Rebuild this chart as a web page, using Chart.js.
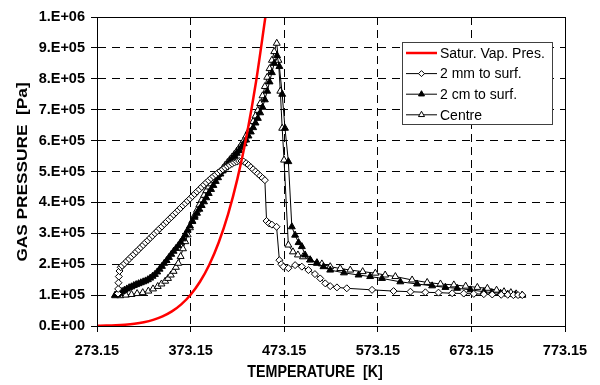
<!DOCTYPE html>
<html>
<head>
<meta charset="utf-8">
<title>Gas pressure vs temperature</title>
<script src="https://cdn.jsdelivr.net/npm/chart.js@4.4.1/dist/chart.umd.min.js"></script>
<style>
  html, body { margin: 0; padding: 0; background: #fff; }
  #wrap { width: 600px; height: 385px; }
</style>
</head>
<body>
<div id="wrap"><canvas id="chart" width="600" height="385"></canvas></div>
<script>
// ---- values ----
const xTicks = [273.15, 373.15, 473.15, 573.15, 673.15, 773.15];
const xTitle = 'TEMPERATURE  [K]';
const yTitle = 'GAS PRESSURE  [Pa]';

// saturation vapour pressure (red curve)
const satT = [273.15, 283.15, 293.15, 303.15, 313.15, 323.15, 333.15, 343.15, 353.15, 363.15,
  373.15, 383.15, 393.15, 403.15, 413.15, 423.15, 433.15, 443.15, 453.15];
const satP = [611, 1228, 2339, 4246, 7384, 12350, 19940, 31190, 47390, 70180,
  101300, 143300, 198500, 270300, 361400, 476200, 618200, 792200, 1002000];

// 2 mm to surface (open diamonds)
const mm2T = [295.6, 295.8, 296.1, 296.5, 297.2, 298.5,
  300, 302.5, 305, 307.5, 310, 312.5, 315, 317.5, 320, 322.5,
  325, 327.5, 330, 332.5, 335, 337.5, 340, 342.5, 345, 347.5,
  350, 352.5, 355, 357.5, 360, 362.5, 365, 367.5, 370, 372.5,
  375, 377.5, 380, 382.5, 385, 387.5, 390, 392.5, 395, 397.5,
  400, 402.5, 405, 407.5, 410, 412.5, 415, 417.5, 420, 422.5,
  425, 427.5, 430, 432.5, 435, 437.5, 440, 442.5, 445, 447.5,
  450, 452.5, 454.3, 457, 460, 465, 468, 470, 472.3, 477.6,
  484.8, 492, 499, 506, 511.6, 517, 522.3, 529.5, 540, 567,
  590, 608, 624, 638, 652.6, 665, 675.7, 686.4, 695.4, 705,
  712, 718, 723, 727.5];
const mm2P = [1.05e5, 1.2e5, 1.4e5, 1.6e5, 1.78e5, 1.9e5,
  1.95e5, 2.02e5, 2.10e5, 2.17e5, 2.25e5, 2.32e5, 2.40e5, 2.47e5, 2.55e5, 2.62e5,
  2.70e5, 2.77e5, 2.85e5, 2.92e5, 3.00e5, 3.07e5, 3.15e5, 3.22e5, 3.30e5, 3.37e5,
  3.45e5, 3.52e5, 3.60e5, 3.67e5, 3.75e5, 3.82e5, 3.90e5, 3.97e5, 4.05e5, 4.12e5,
  4.20e5, 4.27e5, 4.35e5, 4.42e5, 4.50e5, 4.57e5, 4.64e5, 4.71e5, 4.78e5, 4.84e5,
  4.90e5, 4.96e5, 5.02e5, 5.07e5, 5.12e5, 5.17e5, 5.21e5, 5.25e5, 5.29e5, 5.32e5,
  5.34e5, 5.34e5, 5.32e5, 5.27e5, 5.21e5, 5.14e5, 5.07e5, 5.00e5, 4.93e5, 4.86e5,
  4.79e5, 4.72e5, 3.4e5, 3.32e5, 3.28e5, 3.21e5, 2.13e5, 2.0e5, 1.92e5, 1.87e5,
  1.97e5, 1.92e5, 1.81e5, 1.68e5, 1.54e5, 1.38e5, 1.29e5, 1.25e5, 1.22e5, 1.17e5,
  1.13e5, 1.11e5, 1.09e5, 1.08e5, 1.06e5, 1.05e5, 1.04e5, 1.03e5, 1.02e5, 1.01e5,
  1.01e5, 1.0e5, 1.0e5, 1.0e5];

// 2 cm to surface (filled triangles)
const cm2T = [292.5, 295, 297.5, 300, 302.5, 305, 307.5, 310, 312.5, 315,
  317.5, 320, 322.5, 325, 327.5, 330, 332.5, 335, 337.5, 340,
  342.5, 345, 347.5, 350, 352.5, 355, 357.5, 360, 362.5, 365,
  367.5, 370, 372.5, 375, 377.5, 380, 382.5, 385, 387.5, 390,
  392.5, 395, 397.5, 400, 402.5, 405, 407.5, 410, 412.5, 415,
  417.5, 420, 422.5, 425, 427.5, 430, 432.5, 435, 437.5, 440,
  442.5, 445, 447.5, 450, 452.5, 455, 457.5, 460, 462.5, 465.5,
  468, 471, 474, 477.6, 481.3, 484.8, 488.5, 492, 495.5, 500.9,
  508.1, 515.1, 522.3, 537, 552.6, 565, 577.6, 597.2, 615.1, 631.2,
  645.4, 657.9, 672.2, 686.4, 695, 704.3, 712, 720, 727.5];
const cm2P = [1.00e5, 1.02e5, 1.06e5, 1.12e5, 1.16e5, 1.20e5, 1.24e5, 1.27e5, 1.31e5, 1.34e5,
  1.37e5, 1.40e5, 1.43e5, 1.46e5, 1.50e5, 1.55e5, 1.61e5, 1.67e5, 1.75e5, 1.84e5,
  1.93e5, 2.03e5, 2.12e5, 2.22e5, 2.32e5, 2.42e5, 2.51e5, 2.60e5, 2.71e5, 2.82e5,
  2.96e5, 3.10e5, 3.24e5, 3.38e5, 3.52e5, 3.65e5, 3.78e5, 3.90e5, 4.02e5, 4.15e5,
  4.29e5, 4.42e5, 4.55e5, 4.68e5, 4.80e5, 4.92e5, 5.02e5, 5.12e5, 5.22e5, 5.32e5,
  5.41e5, 5.50e5, 5.59e5, 5.68e5, 5.79e5, 5.90e5, 6.02e5, 6.15e5, 6.28e5, 6.42e5,
  6.57e5, 6.72e5, 6.90e5, 7.08e5, 7.32e5, 7.60e5, 7.90e5, 8.20e5, 8.50e5, 8.75e5,
  8.4e5, 7.5e5, 6.4e5, 5.32e5, 3.21e5, 2.94e5, 2.7e5, 2.57e5, 2.3e5, 2.14e5,
  2.03e5, 1.92e5, 1.81e5, 1.72e5, 1.65e5, 1.6e5, 1.54e5, 1.43e5, 1.36e5, 1.3e5,
  1.25e5, 1.22e5, 1.17e5, 1.11e5, 1.08e5, 1.06e5, 1.03e5, 1.01e5, 1.0e5];

// centre (open triangles)
const centreT = [292.5, 298, 304, 310, 316, 322, 328, 333, 338, 342,
  346, 349, 352, 355, 357.5, 360, 362.5, 365, 367.5, 370,
  372.5, 375, 377.5, 380, 382.5, 385, 387.5, 390, 392.5, 395,
  397.5, 400, 402.5, 405, 407.5, 410, 412.5, 415, 417.5, 420,
  422.5, 425, 427.5, 430, 432.5, 435, 437.5, 440, 442.5, 445,
  447.5, 450, 452.5, 455, 457.5, 460, 462.5, 465.2, 467, 469,
  471, 473, 477.6, 482.5, 487.8, 493.2, 500.9, 508.1, 513.4, 522.3,
  533, 543.7, 557, 570.5, 581, 591.9, 609.8, 625.9, 640.1, 654.4,
  667, 679.5, 690.2, 700, 708, 715.3, 721, 727.5];
const centreP = [0.98e5, 0.98e5, 1.0e5, 1.02e5, 1.05e5, 1.08e5, 1.13e5, 1.2e5, 1.28e5, 1.36e5,
  1.45e5, 1.54e5, 1.65e5, 1.77e5, 1.9e5, 2.03e5, 2.25e5, 2.5e5, 2.73e5, 2.95e5,
  3.18e5, 3.4e5, 3.58e5, 3.75e5, 3.92e5, 4.08e5, 4.23e5, 4.38e5, 4.5e5, 4.6e5,
  4.7e5, 4.8e5, 4.9e5, 5.0e5, 5.1e5, 5.2e5, 5.29e5, 5.38e5, 5.47e5, 5.56e5,
  5.66e5, 5.76e5, 5.88e5, 6.0e5, 6.15e5, 6.3e5, 6.46e5, 6.62e5, 6.8e5, 6.98e5,
  7.2e5, 7.45e5, 7.75e5, 8.05e5, 8.33e5, 8.6e5, 8.88e5, 9.15e5, 8.6e5, 7.6e5,
  6.4e5, 5.37e5, 2.62e5, 2.4e5, 2.3e5, 2.24e5, 2.14e5, 2.05e5, 2.01e5, 1.92e5,
  1.86e5, 1.81e5, 1.76e5, 1.71e5, 1.65e5, 1.6e5, 1.49e5, 1.41e5, 1.36e5, 1.33e5,
  1.29e5, 1.25e5, 1.22e5, 1.16e5, 1.11e5, 1.08e5, 1.04e5, 1.0e5];

const FONT = "Arial, 'Liberation Sans', sans-serif";

const toPoints = (xs, ys) => xs.map((x, i) => ({ x, y: ys[i] }));

// Excel style "9.E+05"
function sciLabel(v) {
  if (v === 0) return '0.E+00';
  const e = Math.floor(Math.log10(v) + 1e-9);
  const m = Math.round(v / Math.pow(10, e));
  return m + '.E+' + String(e).padStart(2, '0');
}

// axis titles (the original is a bit stretched vertically)
const axisTitles = {
  id: 'axisTitles',
  afterDraw(chart) {
    const c = chart.ctx;
    c.save();
    c.fillStyle = '#000';
    c.textAlign = 'center';
    c.textBaseline = 'middle';
    c.font = 'bold 14.3px ' + FONT;
    c.save();
    c.translate(315, 372);
    c.scale(1, 1.15);
    c.fillText(xTitle, 0, 0);
    c.restore();
    c.font = 'bold 15px ' + FONT;
    c.translate(23, 172);
    c.scale(1, 1.15);
    c.rotate(-Math.PI / 2);
    c.fillText(yTitle, 0, 0);
    c.restore();
  }
};

// legend box drawn inside the plot, like the original
const boxLegend = {
  id: 'boxLegend',
  afterDraw(chart) {
    const c = chart.ctx;
    const bx = 402, by = 42, bw = 150, bh = 82;
    c.save();
    c.fillStyle = '#fff';
    c.fillRect(bx, by, bw, bh);
    c.strokeStyle = '#404040';
    c.lineWidth = 1;
    c.strokeRect(bx + 0.5, by + 0.5, bw, bh);
    c.font = '14px ' + FONT;
    c.textBaseline = 'middle';
    chart.data.datasets.forEach((ds, i) => {
      const y = by + 11 + i * 20.6;
      c.strokeStyle = ds.borderColor;
      c.lineWidth = ds.borderWidth;
      c.beginPath();
      c.moveTo(406, y);
      c.lineTo(437, y);
      c.stroke();
      if (ds.pointRadius > 0) {
        c.fillStyle = ds.pointBackgroundColor;
        c.strokeStyle = ds.pointBorderColor;
        c.lineWidth = 1;
        Chart.helpers.drawPoint(c, { pointStyle: ds.pointStyle, radius: ds.pointRadius - 0.5, rotation: 0, borderWidth: 1 }, 421.5, y);
      }
      c.fillStyle = '#000';
      c.fillText(ds.label, 440, y + 1);
    });
    c.restore();
  }
};

// solid frame round the plot area
const frame = {
  id: 'frame',
  afterDatasetsDraw(chart) {
    const { ctx: c, chartArea: a } = chart;
    c.save();
    c.strokeStyle = '#000';
    c.lineWidth = 1;
    c.strokeRect(Math.round(a.left) + 0.5, Math.round(a.top) + 0.5,
      Math.round(a.right - a.left), Math.round(a.bottom - a.top));
    c.restore();
  }
};

new Chart(document.getElementById('chart'), {
  type: 'line',
  data: {
    datasets: [
      {
        label: 'Satur. Vap. Pres.',
        data: toPoints(satT, satP),
        borderColor: '#ff0000',
        borderWidth: 2.5,
        pointRadius: 0,
        tension: 0.4,
        cubicInterpolationMode: 'monotone'
      },
      {
        label: '2 mm to surf.',
        data: toPoints(mm2T, mm2P),
        borderColor: '#000',
        borderWidth: 1,
        pointStyle: 'rectRot',
        pointRadius: 3.5,
        pointBackgroundColor: '#fff',
        pointBorderColor: '#000',
        pointBorderWidth: 1
      },
      {
        label: '2 cm to surf.',
        data: toPoints(cm2T, cm2P),
        borderColor: '#000',
        borderWidth: 1,
        pointStyle: 'triangle',
        pointRadius: 4,
        pointBackgroundColor: '#000',
        pointBorderColor: '#000',
        pointBorderWidth: 1
      },
      {
        label: 'Centre',
        data: toPoints(centreT, centreP),
        borderColor: '#000',
        borderWidth: 1,
        pointStyle: 'triangle',
        pointRadius: 4,
        pointBackgroundColor: '#fff',
        pointBorderColor: '#000',
        pointBorderWidth: 1
      }
    ]
  },
  options: {
    responsive: false,
    animation: false,
    devicePixelRatio: 1,
    layout: { padding: { left: 0, right: 35, top: 17, bottom: 0 } },
    plugins: {
      legend: { display: false },
      tooltip: { enabled: false }
    },
    scales: {
      x: {
        type: 'linear',
        min: 273.15,
        max: 773.15,
        afterBuildTicks(scale) { scale.ticks = xTicks.map(v => ({ value: v })); },
        afterFit(scale) { scale.height = 59; },
        ticks: {
          autoSkip: false,
          maxRotation: 0,
          color: '#000',
          padding: 10,
          font: { family: FONT, size: 14.5, weight: 'bold' },
          callback: v => Number(v).toFixed(2)
        },
        grid: { color: '#000', lineWidth: 1, tickLength: 6, tickColor: '#000' },
        border: { display: true, color: '#000', width: 1, dash: [8, 5] }
      },
      y: {
        type: 'linear',
        min: 0,
        max: 1e6,
        afterFit(scale) { scale.width = 97; },
        ticks: {
          stepSize: 1e5,
          color: '#000',
          padding: 6,
          font: { family: FONT, size: 14.5, weight: 'bold' },
          callback: sciLabel
        },
        grid: { color: '#000', lineWidth: 1, tickLength: 6, tickColor: '#000' },
        border: { display: true, color: '#000', width: 1, dash: [8, 6] }
      }
    }
  },
  plugins: [frame, boxLegend, axisTitles]
});
</script>
</body>
</html>
